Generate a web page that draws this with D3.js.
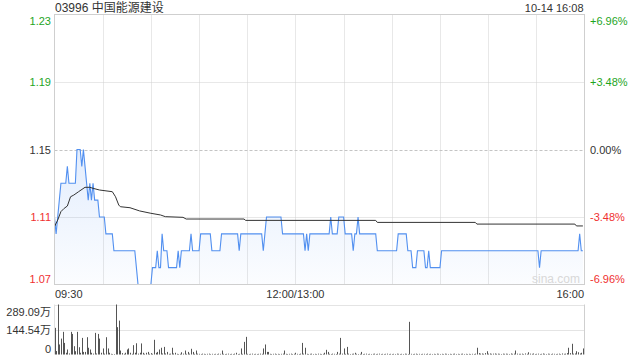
<!DOCTYPE html>
<html>
<head>
<meta charset="utf-8">
<script src="https://cdn.jsdelivr.net/npm/d3@7"></script>
<style>
    body { margin: 0; background: #fff; }
    svg { font-family: "Liberation Sans", Arial, "Noto Sans CJK SC", sans-serif; }
    .text_label { font-size: 11px; fill: #333; }
    .text_title { font-size: 12px; fill: #333; }
</style>
</head>
<body>
<svg id="minute_chart" width="640" height="360"></svg>
<script>
var stockTitle = "03996 中国能源建设";
var stampText = "10-14 16:08";
var prevClose = 1.15;

var priceTicks = [1.23, 1.19, 1.15, 1.11, 1.07];
var pctTicks = ["+6.96%", "+3.48%", "0.00%", "-3.48%", "-6.96%"];
var volumeTicks = [289.09, 144.54, 0];
var volumeTickLabels = ["289.09万", "144.54万", "0"];
var timeTicks = [0, 150, 330];
var timeLabels = ["09:30", "12:00/13:00", "16:00"];

// last price, one per minute from 09:30
var prices = [
    1.11,1.10,1.11,1.12,1.13,1.13,1.13,1.13,1.14,1.13,
    1.13,1.13,1.13,1.13,1.15,1.15,1.15,1.14,1.15,1.14,
    1.13,1.12,1.13,1.12,1.13,1.12,1.12,1.12,1.11,1.11,
    1.11,1.11,1.10,1.10,1.10,1.10,1.10,1.09,1.09,1.09,
    1.09,1.09,1.09,1.09,1.09,1.09,1.09,1.09,1.09,1.09,
    1.09,1.08,1.07,1.07,1.07,1.07,1.07,1.07,1.07,1.07,
    1.07,1.08,1.08,1.08,1.09,1.08,1.08,1.10,1.09,1.09,
    1.09,1.08,1.08,1.08,1.08,1.08,1.08,1.09,1.08,1.09,
    1.09,1.09,1.09,1.09,1.09,1.10,1.09,1.09,1.09,1.09,
    1.09,1.10,1.10,1.10,1.10,1.10,1.10,1.10,1.09,1.09,
    1.09,1.09,1.09,1.09,1.10,1.10,1.10,1.10,1.10,1.10,
    1.10,1.10,1.10,1.10,1.10,1.09,1.10,1.10,1.10,1.10,
    1.10,1.10,1.10,1.10,1.10,1.10,1.10,1.10,1.10,1.10,
    1.09,1.10,1.11,1.11,1.11,1.11,1.11,1.11,1.11,1.11,
    1.11,1.11,1.10,1.10,1.10,1.10,1.10,1.10,1.10,1.10,
    1.10,1.10,1.10,1.10,1.10,1.10,1.09,1.10,1.09,1.10,
    1.10,1.10,1.10,1.10,1.10,1.10,1.10,1.10,1.10,1.10,
    1.10,1.10,1.11,1.10,1.10,1.10,1.10,1.11,1.11,1.11,
    1.11,1.10,1.10,1.10,1.10,1.10,1.09,1.10,1.10,1.11,
    1.10,1.10,1.10,1.10,1.10,1.10,1.10,1.10,1.10,1.10,
    1.10,1.09,1.09,1.09,1.09,1.09,1.09,1.09,1.09,1.09,
    1.09,1.09,1.09,1.09,1.10,1.10,1.10,1.10,1.10,1.10,
    1.09,1.09,1.09,1.08,1.08,1.08,1.09,1.09,1.09,1.09,
    1.09,1.08,1.08,1.09,1.08,1.08,1.08,1.08,1.08,1.08,
    1.08,1.09,1.09,1.09,1.09,1.09,1.09,1.09,1.09,1.09,
    1.09,1.09,1.09,1.09,1.09,1.09,1.09,1.09,1.09,1.09,
    1.09,1.09,1.09,1.09,1.09,1.09,1.09,1.09,1.09,1.09,
    1.09,1.09,1.09,1.09,1.09,1.09,1.09,1.09,1.09,1.09,
    1.09,1.09,1.09,1.09,1.09,1.09,1.09,1.09,1.09,1.09,
    1.09,1.09,1.09,1.09,1.09,1.09,1.09,1.09,1.09,1.09,
    1.09,1.09,1.08,1.09,1.09,1.09,1.09,1.09,1.09,1.09,
    1.09,1.09,1.09,1.09,1.09,1.09,1.09,1.09,1.09,1.09,
    1.09,1.09,1.09,1.09,1.09,1.09,1.09,1.10,1.09,1.09
];

// average price line, [minute, value]
var avgPoints = [
    [0, 1.1043], [2, 1.1082], [4, 1.1132], [6, 1.1151], [8, 1.1165], [10, 1.1220],
    [12, 1.1230], [15, 1.1250], [19, 1.1276], [22, 1.1276], [24, 1.1270], [28, 1.1260],
    [36, 1.1250], [38, 1.1220], [40, 1.1171], [41, 1.1161], [47, 1.1155], [53, 1.1136],
    [60, 1.1122], [66, 1.1112], [69, 1.1102], [80, 1.1098], [82, 1.1088], [118, 1.1088],
    [119, 1.1080], [200, 1.1080], [201, 1.1068], [262, 1.1068], [263, 1.1058],
    [324, 1.1058], [325, 1.1047], [329, 1.1047]
];

// volume per minute, in 万 shares
var volumes = [
    154,20,289.09,58,92,131,67,10,29,6,
    131,119,48,19,131,42,10,96,15,15,
    100,39,29,10,5,125,6,119,92,10,
    35,5,100,35,10,4,3,3,289.09,158,
    196,23,8,4,10,29,35,10,4,54,
    10,65,5,10,64,10,4,10,15,4,
    8,4,85,10,15,29,39,6,44,6,
    15,4,5,39,6,10,4,3,4,13,
    5,23,4,15,5,33,15,4,23,5,
    4,3,5,4,3,4,5,3,4,3,
    4,3,5,4,23,4,3,4,5,3,
    4,3,5,10,3,4,35,4,73,102,
    4,3,4,5,3,4,3,4,5,4,
    35,58,15,15,4,3,4,5,3,4,
    3,4,5,23,4,3,4,5,3,4,
    10,4,3,5,67,5,39,4,3,4,
    5,3,4,3,5,4,3,4,10,27,
    15,4,3,5,4,3,15,5,96,5,
    35,4,44,5,3,4,5,10,4,3,
    4,15,3,4,5,3,4,3,4,5,
    3,4,5,3,4,3,4,5,3,4,
    3,4,3,5,4,3,4,3,5,4,
    3,189,4,3,4,5,3,4,3,4,
    4,3,5,3,4,3,4,3,5,4,
    3,4,3,5,4,3,4,3,4,5,
    3,4,3,4,5,3,4,3,4,3,
    4,3,5,39,8,5,6,4,8,19,
    5,6,4,5,6,4,5,4,3,5,
    4,5,4,3,6,4,5,23,5,4,
    4,5,3,6,4,13,5,4,6,3,
    4,5,3,4,6,4,3,5,4,3,
    5,4,3,4,5,3,6,4,5,8,
    39,8,62,5,6,19,13,6,10,35
];

var chart_svg;

function build_minute_chart() {
    chart_svg = d3.select("#minute_chart");
    const left = 54.5, right = 584.5;
    const priceTop = 14.5, priceBottom = 284.5;
    const volTop = 304.5, volBottom = 354.5;
    const upColor = "#1ea51e", downColor = "#f03030";

    var xScale = d3.scaleLinear().domain([0, 330]).range([left, right]);
    var yPrice = d3.scaleLinear().domain([1.07, 1.23]).range([priceBottom, priceTop]);
    var yVolume = d3.scaleLinear().domain([0, 289.09]).range([volBottom, volTop]);

    var defs = chart_svg.append("defs");
    var grad = defs.append("linearGradient").attr("id", "area_fill")
        .attr("gradientUnits", "userSpaceOnUse")
        .attr("x1", 0).attr("x2", 0)
        .attr("y1", yPrice(1.15)).attr("y2", priceBottom);
    grad.append("stop").attr("offset", "0%").attr("stop-color", "#4f8ff2").attr("stop-opacity", 0.16);
    grad.append("stop").attr("offset", "100%").attr("stop-color", "#4f8ff2").attr("stop-opacity", 0.02);

    // title
    chart_svg.append("text").attr("class", "text_title")
        .attr("x", 55).attr("y", 11.5).text(stockTitle);
    chart_svg.append("text").attr("class", "text_label")
        .attr("x", right - 1).attr("y", 11.5).attr("text-anchor", "end").text(stampText);

    // grid
    var grid = chart_svg.append("g");
    grid.selectAll("line.vgrid")
        .data(d3.range(30, 330, 30)).enter()
        .append("line").attr("class", "vgrid")
        .attr("x1", d => Math.round(xScale(d)) + 0.5).attr("x2", d => Math.round(xScale(d)) + 0.5)
        .attr("y1", priceTop).attr("y2", priceBottom)
        .attr("stroke", "#d0d0d0").attr("stroke-dasharray", "1,1");
    grid.selectAll("line.hgrid")
        .data(priceTicks.slice(1, -1)).enter()
        .append("line").attr("class", "hgrid")
        .attr("x1", left).attr("x2", right)
        .attr("y1", d => Math.round(yPrice(d)) + 0.5).attr("y2", d => Math.round(yPrice(d)) + 0.5)
        .attr("stroke", d => d == prevClose ? "#c4c4c4" : "#d0d0d0")
        .attr("stroke-dasharray", d => d == prevClose ? "3,2" : "1,1");

    // price area + lines
    var area = d3.area()
        .x((d, i) => xScale(i))
        .y0(priceBottom)
        .y1(d => yPrice(d));
    chart_svg.append("path").attr("d", area(prices)).attr("fill", "url(#area_fill)");

    chart_svg.append("path")
        .attr("d", d3.line().x((d, i) => xScale(i)).y(d => yPrice(d))(prices))
        .attr("fill", "none").attr("stroke", "#5290f0").attr("stroke-width", 1.1);

    chart_svg.append("path")
        .attr("d", d3.line().x(d => xScale(d[0])).y(d => yPrice(d[1]))(avgPoints))
        .attr("fill", "none").attr("stroke", "#333").attr("stroke-width", 1);

    // watermark
    chart_svg.append("text").attr("x", 532).attr("y", 283)
        .attr("font-size", 12).attr("fill", "#d8d8d8").text("sina.com");

    // frame
    chart_svg.append("rect")
        .attr("x", left).attr("y", priceTop)
        .attr("width", right - left).attr("height", priceBottom - priceTop)
        .attr("fill", "none").attr("stroke", "#cfcfcf");

    // price labels
    function labelShift(i, n) {
        if (i == 0) return 6;
        if (i == n - 1) return -6;
        return 0;
    }
    function tickColor(p) {
        if (Math.abs(p - prevClose) < 1e-6) return "#333";
        return p > prevClose ? upColor : downColor;
    }
    chart_svg.selectAll("text.price_tick")
        .data(priceTicks).enter()
        .append("text").attr("class", "text_label price_tick")
        .attr("x", 51).attr("y", (d, i) => yPrice(d) + labelShift(i, priceTicks.length))
        .attr("text-anchor", "end").attr("dominant-baseline", "central")
        .style("fill", d => tickColor(d))
        .text(d => d.toFixed(2));
    chart_svg.selectAll("text.pct_tick")
        .data(pctTicks).enter()
        .append("text").attr("class", "text_label pct_tick")
        .attr("x", 590).attr("y", (d, i) => yPrice(priceTicks[i]) + labelShift(i, pctTicks.length))
        .attr("dominant-baseline", "central")
        .style("fill", (d, i) => tickColor(priceTicks[i]))
        .text(d => d);

    // time labels
    chart_svg.selectAll("text.time_tick")
        .data(timeTicks).enter()
        .append("text").attr("class", "text_label time_tick")
        .attr("x", (d, i) => i == 0 ? left + 0.5 : (i == timeTicks.length - 1 ? right - 0.5 : xScale(d)))
        .attr("y", 297.5)
        .attr("text-anchor", (d, i) => i == 0 ? "start" : (i == timeTicks.length - 1 ? "end" : "middle"))
        .text((d, i) => timeLabels[i]);

    // volume panel
    var vol = chart_svg.append("g");
    vol.selectAll("line.vol_grid")
        .data(volumeTicks.slice(0, -1)).enter()
        .append("line").attr("class", "vol_grid")
        .attr("x1", left).attr("x2", right)
        .attr("y1", d => Math.round(yVolume(d)) + 0.5).attr("y2", d => Math.round(yVolume(d)) + 0.5)
        .attr("stroke", "#c8c8c8").attr("stroke-dasharray", "1,1");
    vol.append("line")
        .attr("x1", left).attr("x2", left).attr("y1", volTop).attr("y2", volBottom)
        .attr("stroke", "#e0e0e0");
    vol.append("line")
        .attr("x1", right).attr("x2", right).attr("y1", volTop).attr("y2", volBottom)
        .attr("stroke", "#cfcfcf");

    vol.selectAll("rect.vol_bar")
        .data(volumes).enter()
        .append("rect").attr("class", "vol_bar")
        .attr("x", (d, i) => Math.round(xScale(i)))
        .attr("y", d => yVolume(d))
        .attr("width", 1)
        .attr("height", d => volBottom - yVolume(d))
        .attr("fill", "#555");

    vol.selectAll("text.vol_tick")
        .data(volumeTicks).enter()
        .append("text").attr("class", "text_label vol_tick")
        .attr("x", 51).attr("y", (d, i) => yVolume(d) + labelShift(i, volumeTicks.length) + (i == 0 ? 1 : 0))
        .attr("text-anchor", "end").attr("dominant-baseline", "central")
        .text((d, i) => volumeTickLabels[i]);
}

build_minute_chart();
</script>
</body>
</html>
